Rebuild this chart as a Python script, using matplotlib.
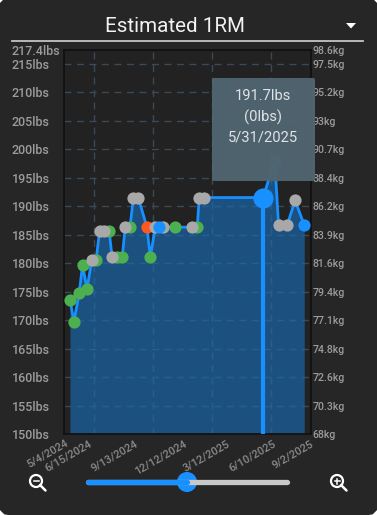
import matplotlib
matplotlib.use('Agg')
import matplotlib.pyplot as plt
from matplotlib.patches import FancyBboxPatch, Circle, Polygon

plt.rcParams['font.family'] = ['Roboto', 'DejaVu Sans']

# days since 5/4/2024
days = [0, 8, 19, 26, 35, 45, 54, 61, 70, 81, 87, 98, 108, 114, 124, 131, 141, 159, 166,
        176, 183, 193, 217, 253, 263, 267, 276, 399, 423, 431, 449, 465, 484]
lbs = [173.6, 169.7, 174.7, 179.7, 175.4, 180.5, 180.5, 185.6, 185.6, 185.6, 181, 181, 181,
       186.3, 186.3, 191.5, 191.5, 186.3, 181, 186.3, 186.3, 186.3, 186.3, 186.3, 186.3,
       191.5, 191.5, 191.5, 198, 186.7, 186.7, 191, 186.7]
kinds = ['g', 'g', 'g', 'g', 'g', 'a', 'g', 'a', 'a', 'g', 'a', 'g', 'g', 'a', 'g', 'a', 'a', 'r', 'g',
         'a', 'b', 'a', 'g', 'a', 'g', 'a', 'a', 'b', 'b', 'a', 'a', 'a', 'b']
selected_day = 399
selected_lbs = 191.5

y_ticks = [150, 155, 160, 165, 170, 175, 180, 185, 190, 195, 200, 205, 210, 215, 217.4]
lb_labels = ['150lbs', '155lbs', '160lbs', '165lbs', '170lbs', '175lbs', '180lbs', '185lbs',
             '190lbs', '195lbs', '200lbs', '205lbs', '210lbs', '215lbs', '217.4lbs']
kg_labels = ['68kg', '70.3kg', '72.6kg', '74.8kg', '77.1kg', '79.4kg', '81.6kg', '83.9kg',
             '86.2kg', '88.4kg', '90.7kg', '93kg', '95.2kg', '97.5kg', '98.6kg']
date_ticks = [-10, 39, 134, 234, 323, 418, 497]
date_labels = ['5/4/2024', '6/15/2024', '9/13/2024', '12/12/2024', '3/12/2025', '6/10/2025', '9/2/2025']
grid_days = [50, 172, 294, 416]

colors = {'g': '#4caf50', 'a': '#a8a8a8', 'r': '#ff5722', 'b': '#1890ff'}
W, H = 377, 515

fig = plt.figure(figsize=(W / 100, H / 100), dpi=100, facecolor='white')

# panel and ui bits in pixel coords
ui = fig.add_axes([0, 0, 1, 1], zorder=0)
ui.set_xlim(0, W)
ui.set_ylim(H, 0)
ui.axis('off')
ui.add_patch(FancyBboxPatch((9, 9), W - 18, H - 20, boxstyle='round,pad=0,rounding_size=1',
                            mutation_aspect=1, fc='#262626', ec='#262626', lw=16))
ui.text(175, 26, 'Estimated 1RM', color='#f2f2f2', fontsize=14.8, ha='center', va='center')
ui.plot([12, 363], [41, 41], color='#c4c4c4', lw=1.3)
ui.add_patch(Polygon([[346, 23], [356, 23], [351, 28.5]], fc='white', ec='none'))

ax = fig.add_axes([64 / W, 1 - 434 / H, (311 - 64) / W, (434 - 50) / H], zorder=1)
ax.set_facecolor('#222222')
ax.set_xlim(-12.4, 498)
ax.set_ylim(150, 217.4)
for s in ax.spines.values():
    s.set_color('#111111')
    s.set_linewidth(1.3)

ax.set_yticks(y_ticks)
ax.set_yticklabels(lb_labels, ha='left', color='#9c9c9c', fontsize=9, fontweight='medium')
ax.tick_params(axis='y', length=0, pad=37.5)
ax.set_xticks(date_ticks)
ax.set_xticklabels(date_labels, rotation=30, ha='right', va='top', rotation_mode='anchor',
                   color='#8a8a8a', fontsize=7.9, fontweight='medium')
ax.tick_params(axis='x', length=0, pad=3)
ax.set_xticks(grid_days, minor=True)
ax.tick_params(axis='x', which='minor', length=0)
ax.grid(False)
ax.xaxis.grid(True, which='minor', color='#3b4a56', lw=1, ls=(0, (5, 4)), zorder=1)
ax.hlines(y_ticks[:-1], -12.4, 498, color='#3b4a56', lw=1, ls=(0, (5, 4)), zorder=1)

ax.fill_between(days, lbs, 150, color='#1a6bb0', alpha=0.66, lw=0, zorder=2)
ax.plot(days, lbs, color='#1890ff', lw=2, zorder=3, clip_on=False)
ax.vlines(selected_day, 150, selected_lbs, color='#1890ff', lw=3, zorder=3)
# green sits under grey, blue on top
layer = {'g': 4, 'r': 4.1, 'a': 4.2, 'b': 4.3}
for d, v, k in zip(days, lbs, kinds):
    ax.plot(d, v, 'o', color=colors[k], ms=8.8, mew=0, zorder=layer[k], clip_on=False)
ax.plot(selected_day, selected_lbs, 'o', color='#1890ff', ms=14.5, mew=0, zorder=5)

rax = ax.twinx()
rax.set_ylim(150, 217.4)
rax.set_yticks(y_ticks)
rax.set_yticklabels(kg_labels, color='#9c9c9c', fontsize=7.6, fontweight='medium')
rax.tick_params(axis='y', length=0, pad=1)
for s in rax.spines.values():
    s.set_visible(False)

# tooltip and slider go on top
top = fig.add_axes([0, 0, 1, 1], zorder=2)
top.set_xlim(0, W)
top.set_ylim(H, 0)
top.axis('off')
top.patch.set_alpha(0)
top.add_patch(FancyBboxPatch((214, 80), 99, 99, boxstyle='round,pad=2,rounding_size=2',
                             fc='#50646f', ec='none', alpha=0.98))
for y, s in zip([96, 117, 137], ['191.7lbs', '(0lbs)', '5/31/2025']):
    top.text(263, y, s, color='#dfe3e6', fontsize=10.6, ha='center', va='center')

top.plot([88, 287], [482, 482], color='#c8c8c8', lw=3.8, solid_capstyle='round')
top.plot([88, 187], [482, 482], color='#1890ff', lw=3.8, solid_capstyle='round')
top.add_patch(Circle((187, 482), 10, fc='#1890ff', ec='none'))
for cx, plus in [(36, False), (337, True)]:
    top.add_patch(Circle((cx, 481), 6, fc='none', ec='white', lw=1.6))
    top.plot([cx + 4, cx + 9.5], [485, 490.5], color='white', lw=1.8, solid_capstyle='round')
    top.plot([cx - 2.5, cx + 2.5], [481, 481], color='white', lw=1.1)
    if plus:
        top.plot([cx, cx], [478.5, 483.5], color='white', lw=1.1)

fig.savefig('out.png', dpi=100, facecolor='white')
